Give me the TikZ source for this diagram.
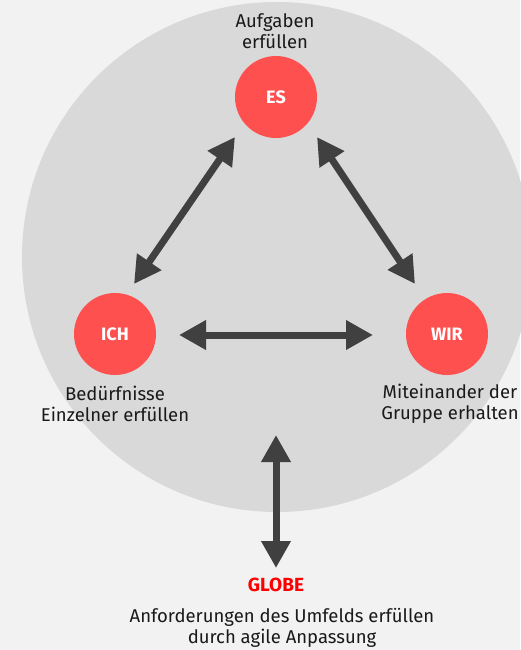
\documentclass[tikz,border=0pt]{standalone}
\usepackage{fontspec}
\setmainfont{Fira Sans}
\usetikzlibrary{arrows.meta}
\definecolor{bggray}{HTML}{F2F2F2}
\definecolor{ringgray}{HTML}{D9D9D9}
\definecolor{rolered}{HTML}{FF5050}
\definecolor{arrowgray}{HTML}{404040}
\begin{document}
\begin{tikzpicture}[x=1pt,y=-1pt]
  \tikzstyle{role}=[circle,fill=rolered,minimum size=82pt,inner sep=0pt,text=white,font=\bfseries\fontsize{18}{20}\selectfont]
  \tikzstyle{caption}=[align=center,text=black!90,font=\fontsize{18.5}{21.5}\selectfont]
  \tikzstyle{link}=[arrowgray,line width=7pt,{Triangle[length=27pt,width=28pt]}-{Triangle[length=27pt,width=28pt]}]
  \fill[bggray] (0,0) rectangle (520,650);
  \useasboundingbox (0,0) rectangle (520,650);
  \fill[ringgray] (277,257) circle (255pt);
  \node[role] (ES)  at (276,97)  {ES};
  \node[role] (ICH) at (115,334) {ICH};
  \node[role] (WIR) at (447,334) {WIR};
  \node[caption] (ES_t)  at (275,31)  {Aufgaben\\erfüllen};
  \node[caption] (ICH_t) at (115,404) {Bedürfnisse\\Einzelner erfüllen};
  \node[caption] (WIR_t) at (450,404) {Miteinander der\\Gruppe erhalten};
  \node[font=\bfseries\fontsize{19}{21}\selectfont,text=red] (GLOBE) at (276,585) {GLOBE};
  \node[caption] (GLOBE_t) at (282,628) {Anforderungen des Umfelds erfüllen\\durch agile Anpassung};
  % arrow ends
  \coordinate (es_l)  at (235,137);
  \coordinate (ich_u) at (134,284);
  \coordinate (es_r)  at (317,137);
  \coordinate (wir_u) at (415,284);
  \coordinate (ich_r) at (179,335);
  \coordinate (wir_l) at (373,335);
  \coordinate (ring_b) at (276,435);
  \coordinate (globe_u) at (276,568);
  \draw[link] (es_l) -- (ich_u);
  \draw[link] (es_r) -- (wir_u);
  \draw[link] (ich_r) -- (wir_l);
  \draw[link] (ring_b) -- (globe_u);
\end{tikzpicture}
\end{document}
